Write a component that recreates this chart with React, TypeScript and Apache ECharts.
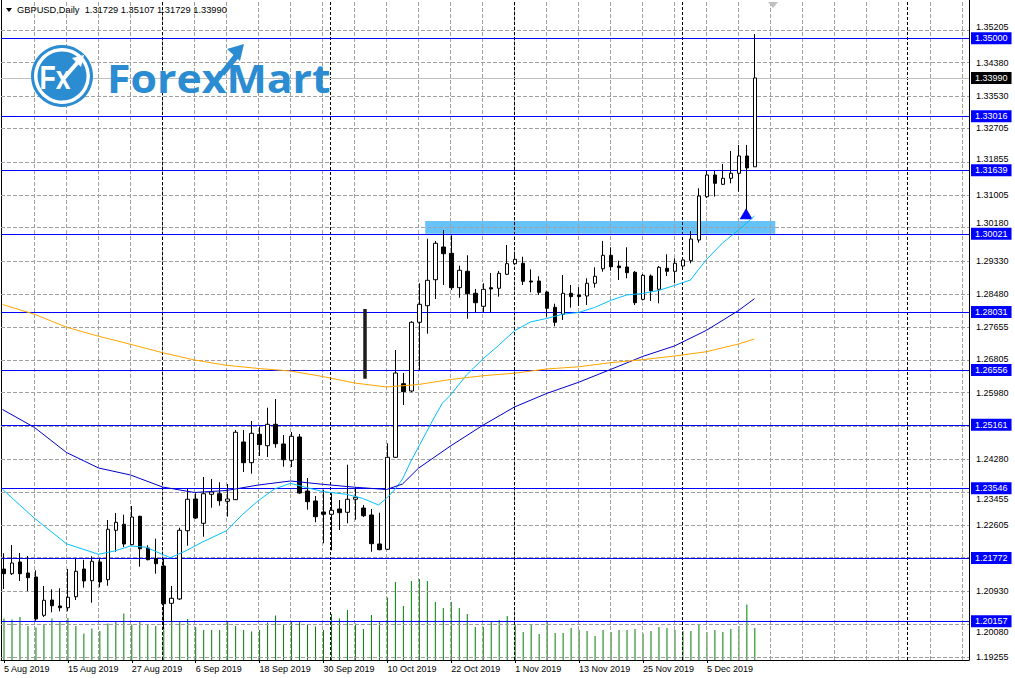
import React, { useEffect, useRef } from 'react';
import * as echarts from 'echarts';

const DATES = [
  '5 Aug 2019','6 Aug 2019','7 Aug 2019','8 Aug 2019','9 Aug 2019','12 Aug 2019','13 Aug 2019','14 Aug 2019','15 Aug 2019','16 Aug 2019',
  '19 Aug 2019','20 Aug 2019','21 Aug 2019','22 Aug 2019','23 Aug 2019','26 Aug 2019','27 Aug 2019','28 Aug 2019','29 Aug 2019','30 Aug 2019',
  '2 Sep 2019','3 Sep 2019','4 Sep 2019','5 Sep 2019','6 Sep 2019','9 Sep 2019','10 Sep 2019','11 Sep 2019','12 Sep 2019','13 Sep 2019',
  '16 Sep 2019','17 Sep 2019','18 Sep 2019','19 Sep 2019','20 Sep 2019','23 Sep 2019','24 Sep 2019','25 Sep 2019','26 Sep 2019','27 Sep 2019',
  '30 Sep 2019','1 Oct 2019','2 Oct 2019','3 Oct 2019','4 Oct 2019','7 Oct 2019','8 Oct 2019','9 Oct 2019','10 Oct 2019','11 Oct 2019',
  '14 Oct 2019','15 Oct 2019','16 Oct 2019','17 Oct 2019','18 Oct 2019','21 Oct 2019','22 Oct 2019','23 Oct 2019','24 Oct 2019','25 Oct 2019',
  '28 Oct 2019','29 Oct 2019','30 Oct 2019','31 Oct 2019','1 Nov 2019','4 Nov 2019','5 Nov 2019','6 Nov 2019','7 Nov 2019','8 Nov 2019',
  '11 Nov 2019','12 Nov 2019','13 Nov 2019','14 Nov 2019','15 Nov 2019','18 Nov 2019','19 Nov 2019','20 Nov 2019','21 Nov 2019','22 Nov 2019',
  '25 Nov 2019','26 Nov 2019','27 Nov 2019','28 Nov 2019','29 Nov 2019','2 Dec 2019','3 Dec 2019','4 Dec 2019','5 Dec 2019','6 Dec 2019',
  '9 Dec 2019','10 Dec 2019','11 Dec 2019','12 Dec 2019','13 Dec 2019',
];

const OPEN = [
  1.21489,1.21370,1.21668,1.21388,1.21286,1.20311,1.20700,1.20548,1.20504,1.20784,
  1.21489,1.21192,1.21668,1.21217,1.22475,1.22627,1.22108,1.22831,1.22024,1.21752,
  1.21566,1.20616,1.20726,1.22464,1.23272,1.22653,1.23391,1.23406,1.23213,1.23254,
  1.24723,1.24196,1.24919,1.24628,1.25173,1.24672,1.24257,1.24850,1.23475,1.23221,
  1.22941,1.22882,1.23017,1.22933,1.23264,1.23042,1.22864,1.22126,1.21991,1.24333,
  1.26207,1.26021,1.27770,1.28193,1.28854,1.29687,1.29527,1.28651,1.29068,1.28508,
  1.28177,1.28651,1.28636,1.28992,1.29262,1.29272,1.28821,1.28821,1.28541,1.28152,
  1.27974,1.28508,1.28465,1.28439,1.28763,1.29134,1.29476,1.29203,1.29178,1.29043,
  1.28355,1.28949,1.28610,1.29145,1.29068,1.29203,1.29338,1.29865,1.30967,1.31520,
  1.31283,1.31436,1.31563,1.32004,1.31729,
];
const HIGH = [
  1.21889,1.22100,1.21897,1.21820,1.21456,1.21057,1.20973,1.20998,1.21489,1.21744,
  1.21726,1.21813,1.21762,1.22737,1.22915,1.22872,1.23093,1.22846,1.22093,1.22261,
  1.21762,1.21057,1.22541,1.23526,1.23417,1.23832,1.23781,1.23697,1.23653,1.25028,
  1.25028,1.25257,1.25112,1.25596,1.25817,1.24901,1.24977,1.24926,1.23806,1.23348,
  1.23508,1.23417,1.23246,1.24145,1.23577,1.23119,1.23017,1.22923,1.24690,1.27065,
  1.26479,1.27800,1.28763,1.29898,1.29840,1.30120,1.29985,1.29211,1.29476,1.28618,
  1.28763,1.29025,1.29076,1.29738,1.29483,1.29440,1.29119,1.28941,1.28567,1.28243,
  1.28974,1.28720,1.28661,1.28890,1.29170,1.29840,1.29679,1.29338,1.29679,1.29076,
  1.28999,1.28987,1.29203,1.29501,1.29399,1.29399,1.30094,1.31181,1.31629,1.31629,
  1.31800,1.32131,1.32284,1.32284,1.35107,
];
const LOW = [
  1.20980,1.21337,1.21184,1.20929,1.20173,1.20267,1.20387,1.20413,1.20413,1.20700,
  1.21013,1.20632,1.21024,1.21064,1.21930,1.22050,1.22093,1.21548,1.21711,1.21370,
  1.19962,1.20140,1.20700,1.22083,1.22762,1.22312,1.23050,1.23101,1.22821,1.23246,
  1.23959,1.23916,1.24366,1.24341,1.24578,1.24094,1.24086,1.23406,1.22999,1.22678,
  1.22144,1.21966,1.22482,1.22653,1.22745,1.22813,1.21930,1.21966,1.21973,1.24315,
  1.25665,1.25988,1.26556,1.27480,1.28363,1.28720,1.28592,1.28396,1.27862,1.28025,
  1.28032,1.28032,1.28422,1.28974,1.29229,1.28720,1.28534,1.28465,1.27913,1.27668,
  1.27828,1.28142,1.28185,1.28210,1.28651,1.29058,1.29084,1.28847,1.28890,1.28210,
  1.28325,1.28312,1.28254,1.28949,1.28763,1.29145,1.29272,1.29796,1.30940,1.30967,
  1.31266,1.31308,1.31095,1.30629,1.31729,
];
const CLOSE = [
  1.21370,1.21642,1.21370,1.21268,1.20217,1.20693,1.20555,1.20504,1.20769,1.21431,
  1.21184,1.21685,1.21158,1.22500,1.22678,1.22126,1.22813,1.22006,1.21726,1.21624,
  1.20606,1.20744,1.22475,1.23264,1.22788,1.23406,1.23450,1.23228,1.23272,1.24970,
  1.24196,1.24944,1.24654,1.25173,1.24679,1.24272,1.24868,1.23424,1.23203,1.22821,
  1.22882,1.22984,1.22923,1.23264,1.23315,1.22846,1.22134,1.21981,1.24333,1.26479,
  1.26003,1.27770,1.28228,1.28839,1.29781,1.29516,1.28651,1.29094,1.28498,1.28269,
  1.28610,1.28618,1.29017,1.29262,1.29374,1.28814,1.28796,1.28534,1.28126,1.27770,
  1.28508,1.28422,1.28422,1.28763,1.28941,1.29476,1.29185,1.29160,1.29033,1.28269,
  1.28966,1.28574,1.29170,1.29068,1.29272,1.29356,1.29890,1.30985,1.31520,1.31308,
  1.31436,1.31563,1.32004,1.31700,1.33990,
];
const VOLUME = [
  83,81,86,68,65,71,83,78,84,68,
  53,63,58,73,78,93,71,78,70,68,
  66,79,78,82,66,60,60,60,78,68,
  60,57,60,75,89,72,78,78,72,67,
  60,92,83,100,73,62,90,77,125,156,
  108,158,162,158,116,104,116,104,92,66,
  66,78,80,88,71,56,72,52,78,54,
  54,64,60,58,48,60,56,60,60,62,
  53,58,66,64,60,58,58,72,56,60,
  56,62,68,111,64,
];

const FAST_IDX = [0,4,8,12,14,16,18,20,21,23,25,28,30,32,34,36,38,40,43,45,47,48,49,50,51,52,53,54,55,56,58,60,62,64,66,68,70,72,74,76,78,80,82,84,86,87,88,90,92,94];
const FAST_VAL = [1.23518,1.22780,1.22131,1.21864,1.21948,1.22075,1.22042,1.21859,1.21777,1.21960,1.22177,1.22464,1.22877,1.23233,1.23526,1.23671,1.23564,1.23462,1.23391,1.23289,1.23119,1.23289,1.23501,1.23781,1.24213,1.24595,1.24977,1.25359,1.25715,1.25919,1.26428,1.26828,1.27179,1.27554,1.27778,1.27867,1.27974,1.28019,1.28147,1.28325,1.28465,1.28503,1.28580,1.28707,1.28847,1.29112,1.29369,1.29789,1.30120,1.30476];
const MID_IDX = [0,4,8,12,16,20,24,28,32,36,40,44,48,50,52,56,60,64,68,72,76,80,84,88,92,94];
const MID_VAL = [1.25550,1.25092,1.24455,1.24061,1.23882,1.23577,1.23437,1.23488,1.23628,1.23730,1.23646,1.23572,1.23513,1.23653,1.24056,1.24621,1.25143,1.25614,1.25957,1.26242,1.26568,1.26899,1.27167,1.27566,1.28070,1.28371];
const SLOW_IDX = [0,4,8,12,16,20,24,28,32,36,40,44,48,52,56,60,64,68,72,76,80,84,88,92,94];
const SLOW_VAL = [1.28223,1.27974,1.27645,1.27416,1.27210,1.26996,1.26810,1.26675,1.26594,1.26530,1.26390,1.26225,1.26123,1.26186,1.26314,1.26408,1.26474,1.26581,1.26637,1.26741,1.26818,1.26912,1.27021,1.27217,1.27345];

const TICK_LABELS = ['1.35205','1.34380','1.33530','1.32705','1.31855','1.31005','1.30180','1.29330','1.28480','1.27655','1.26805','1.25980','1.25130','1.24280','1.23455','1.22605','1.21780','1.20930','1.20080','1.19255'];
const LEVELS = [1.35000, 1.33016, 1.31639, 1.30021, 1.28031, 1.26556, 1.25161, 1.23546, 1.21772, 1.20157];
const BID = 1.33990;
const SEPARATORS = [20, 41, 64, 85, 113.05];
const ZONE_X = [52.84, 96.6];
const ZONE_Y = [1.30349, 1.30021];
const ARROW = [92.95, 1.30532];
const DARK_MARK_X = 45.3;
const DARK_MARK_Y = [1.28109, 1.26334];

const FUTURE_SLOTS = 26;
const PMIN = 1.191726;
const PMAX = 1.35975;
const PX_PER_UNIT = 660 / (PMAX - PMIN);
const FONT = 'Liberation Sans';
const LOGO_BLUE = '#2b8cd2';
const GRID_GRAY = '#a0a0a0';

export default function App() {
  const ref = useRef<HTMLDivElement>(null);
  useEffect(() => {
    const chart = echarts.init(ref.current as HTMLDivElement, null, { renderer: 'svg' });
    const cats = DATES.concat(new Array(FUTURE_SLOTS).fill(''));
    const showLabel = (i: number) => i % 8 === 0 && i < DATES.length;
    const candles = OPEN.map((o, i) => [o, CLOSE[i], LOW[i], HIGH[i]]);
    const pairs = (idx: number[], val: number[]) => idx.map((x, i) => [x, val[i]]);
    const tickLabelStyle = { show: true, position: 'end', distance: 7, color: '#000', fontSize: 9, fontFamily: FONT };
    const gridStyle = { color: GRID_GRAY, type: 'dashed', width: 1 };

    const gridItems: any[] = [];
    for (let k = 1; k <= 30; k++) {
      gridItems.push({ xAxis: 4 * k, lineStyle: gridStyle, label: { show: false } });
    }
    const labelItems: any[] = [];
    TICK_LABELS.forEach((t) => {
      const v = parseFloat(t);
      gridItems.push({ yAxis: v, lineStyle: gridStyle, label: { show: false } });
      let nearest = 0;
      LEVELS.concat([BID]).forEach((l) => {
        if (nearest === 0 || Math.abs(v - l) < Math.abs(v - nearest)) nearest = l;
      });
      const gapPx = Math.abs(v - nearest) * PX_PER_UNIT;
      if (gapPx < 2) return; // fully covered by a level box, as in the reference
      let labelValue = v;
      if (gapPx < 11) {
        const dir = v > nearest ? 1 : -1;
        labelValue = nearest + dir * (11 / PX_PER_UNIT);
      }
      labelItems.push({ yAxis: labelValue, lineStyle: { width: 0, color: 'rgba(0,0,0,0)' }, label: { ...tickLabelStyle, formatter: t } });
    });

    const boxLabel = (text: string, bg: string) => ({
      show: true, position: 'end', distance: 2, formatter: text, color: '#fff', backgroundColor: bg,
      padding: [2, 4, 1, 4], fontSize: 9, fontFamily: FONT,
    });
    const levelLines = LEVELS.map((v) => ({
      yAxis: v, lineStyle: { color: '#0000ff', width: 1, type: 'solid' }, label: boxLabel(v.toFixed(5), '#0000ff'),
    }));
    const sepLines = SEPARATORS.map((x) => ({ xAxis: x, lineStyle: { color: '#000', type: [3, 2], width: 1 }, label: { show: false } }));
    const dummy = [[-10, 1.3]];
    const title = `GBPUSD,Daily  ${OPEN[94].toFixed(5)} ${HIGH[94].toFixed(5)} ${LOW[94].toFixed(5)} ${CLOSE[94].toFixed(5)}`;

    const option: any = {
      animation: false,
      backgroundColor: '#ffffff',
      grid: [
        { left: -1.5, top: 0, width: 968, height: 660 },
        { left: 1, top: 0, right: 46, height: 660 },
      ],
      xAxis: [
        {
          gridIndex: 0, type: 'category', data: cats, boundaryGap: true,
          axisLine: { show: false },
          axisTick: { show: true, interval: (i: number) => showLabel(i), alignWithLabel: true, length: 3, lineStyle: { color: '#000' } },
          axisLabel: { interval: (i: number) => showLabel(i), align: 'left', margin: 4, fontSize: 9, color: '#000', fontFamily: FONT },
          splitLine: { show: false },
        },
        {
          gridIndex: 1, type: 'value', min: -0.1875, max: 120.8125,
          axisLine: { show: true, onZero: false, lineStyle: { color: '#000', width: 1 } },
          axisTick: { show: false }, axisLabel: { show: false }, splitLine: { show: false },
        },
      ],
      yAxis: [
        { gridIndex: 0, type: 'value', min: PMIN, max: PMAX, show: false },
        { gridIndex: 0, type: 'value', min: 0, max: 1320, show: false },
        {
          gridIndex: 1, type: 'value', position: 'right', min: PMIN, max: PMAX,
          axisLine: { show: true, onZero: false, lineStyle: { color: '#000', width: 1 } },
          axisTick: { show: false }, axisLabel: { show: false }, splitLine: { show: false },
        },
        {
          gridIndex: 1, type: 'value', position: 'left', min: PMIN, max: PMAX,
          axisLine: { show: true, onZero: false, lineStyle: { color: '#000', width: 1 } },
          axisTick: { show: false }, axisLabel: { show: false }, splitLine: { show: false },
        },
      ],
      series: [
        {
          name: 'zone', type: 'line', xAxisIndex: 1, yAxisIndex: 2, data: dummy, symbol: 'none', z: 2, silent: true,
          markArea: {
            silent: true,
            itemStyle: { color: '#66c3fa', opacity: 1 },
            data: [[{ coord: [ZONE_X[0], ZONE_Y[0]] }, { coord: [ZONE_X[1], ZONE_Y[1]] }]],
          },
        },
        {
          name: 'Volume', type: 'bar', xAxisIndex: 0, yAxisIndex: 1, data: VOLUME, barWidth: 1, z: 3,
          itemStyle: { color: '#008000' }, silent: true,
        },
        {
          name: 'levels', type: 'line', xAxisIndex: 1, yAxisIndex: 2, data: dummy, symbol: 'none', z: 5, silent: true,
          markLine: {
            silent: true, symbol: ['none', 'none'], precision: 6,
            data: [
              ...gridItems,
              ...labelItems,
              ...sepLines,
              { yAxis: BID, lineStyle: { color: '#c0c0c0', width: 1, type: 'solid' }, label: boxLabel(BID.toFixed(5), '#000000') },
              ...levelLines,
              [
                { coord: [DARK_MARK_X, DARK_MARK_Y[0]], lineStyle: { color: '#1c1c1c', width: 3.5, type: 'solid' }, label: { show: false } },
                { coord: [DARK_MARK_X, DARK_MARK_Y[1]] },
              ],
            ],
          },
          markPoint: {
            silent: true,
            data: [{ coord: ARROW, symbol: 'triangle', symbolSize: [13, 11], itemStyle: { color: '#0000ff' }, label: { show: false } }],
          },
        },
        {
          name: 'GBPUSD', type: 'candlestick', xAxisIndex: 0, yAxisIndex: 0, data: candles, barWidth: 4, z: 6,
          itemStyle: { color: '#ffffff', color0: '#000000', borderColor: '#000000', borderColor0: '#000000', borderWidth: 1 },
        },
        {
          name: 'MA fast', type: 'line', xAxisIndex: 1, yAxisIndex: 2, data: pairs(FAST_IDX, FAST_VAL), symbol: 'none', z: 7,
          lineStyle: { color: '#00bfff', width: 1 },
        },
        {
          name: 'MA mid', type: 'line', xAxisIndex: 1, yAxisIndex: 2, data: pairs(MID_IDX, MID_VAL), symbol: 'none', z: 7,
          lineStyle: { color: '#0000cd', width: 1 },
        },
        {
          name: 'MA slow', type: 'line', xAxisIndex: 1, yAxisIndex: 2, data: pairs(SLOW_IDX, SLOW_VAL), symbol: 'none', z: 7,
          lineStyle: { color: '#ffa500', width: 1 },
        },
      ],
      graphic: [
        { type: 'polygon', z: 10, shape: { points: [[6, 8], [12, 8], [9, 12]] }, style: { fill: '#000' } },
        { type: 'text', z: 10, x: 17, y: 10, style: { text: title, fill: '#000', font: `9.3px "${FONT}"`, align: 'left', verticalAlign: 'middle' } },
        { type: 'polygon', z: 10, shape: { points: [[768, 2], [778, 2], [773, 8]] }, style: { fill: '#c0c0c0' } },
        { type: 'circle', z: 5.5, shape: { cx: 62, cy: 76, r: 29.5 }, style: { fill: '#ffffff', stroke: LOGO_BLUE, lineWidth: 3 } },
        { type: 'circle', z: 5.5, shape: { cx: 62, cy: 76, r: 24.5 }, style: { fill: LOGO_BLUE } },
        { type: 'text', z: 5.6, x: 55, y: 77, scaleX: 0.78, style: { text: 'Fx', fill: '#ffffff', font: `bold 34px "${FONT}"`, align: 'center', verticalAlign: 'middle' } },
        { type: 'line', z: 5.6, shape: { x1: 64, y1: 78, x2: 78, y2: 62 }, style: { stroke: '#ffffff', lineWidth: 4 } },
        { type: 'polygon', z: 5.6, shape: { points: [[84, 55], [72, 58], [81, 67]] }, style: { fill: '#ffffff' } },
        { type: 'text', z: 5.6, x: 107, y: 78, scaleX: 1.07, style: { text: 'ForexMart', fill: LOGO_BLUE, font: 'bold 40px "Open Sans"', align: 'left', verticalAlign: 'middle' } },
        { type: 'line', z: 5.6, shape: { x1: 222, y1: 74, x2: 238, y2: 54 }, style: { stroke: LOGO_BLUE, lineWidth: 6 } },
        { type: 'polygon', z: 5.6, shape: { points: [[244, 44], [227, 49], [240, 61]] }, style: { fill: LOGO_BLUE } },
      ],
    };
    chart.setOption(option);
    return () => chart.dispose();
  }, []);
  return <div ref={ref} style={{ position: 'fixed', left: 0, top: 0, width: 1015, height: 678, background: '#fff' }} />;
}
